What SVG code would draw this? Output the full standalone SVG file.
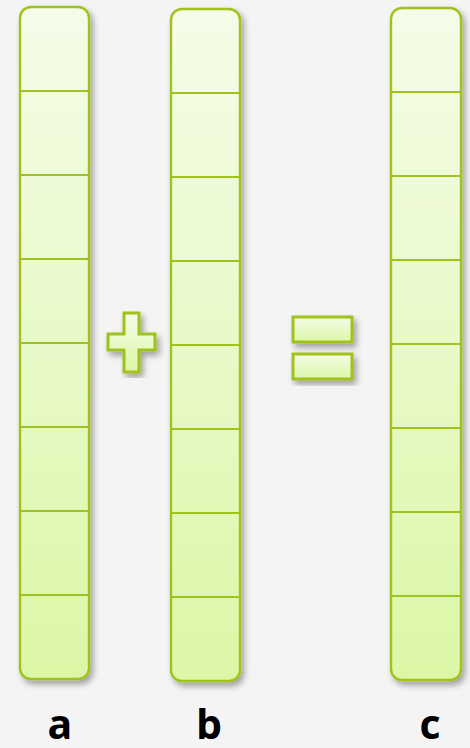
<svg xmlns="http://www.w3.org/2000/svg" width="470" height="748" viewBox="0 0 470 748">
<defs>
<linearGradient id="g" x1="0" y1="0" x2="0" y2="1">
<stop offset="0" stop-color="#f5fce9"/>
<stop offset="1" stop-color="#dbf7a6"/>
</linearGradient>
<filter id="sh" x="-30%" y="-10%" width="160%" height="120%">
<feGaussianBlur in="SourceAlpha" stdDeviation="3"/>
<feOffset dx="3" dy="4" result="b"/>
<feComponentTransfer><feFuncA type="linear" slope="0.35"/></feComponentTransfer>
<feMerge><feMergeNode/><feMergeNode in="SourceGraphic"/></feMerge>
</filter>
<style>
.box{fill:url(#g);stroke:#9fc21a;stroke-width:2.4}
.ln{stroke:#9fc21a;stroke-width:2.2;fill:none}
.sym{fill:url(#g);stroke:#9fc21a;stroke-width:3}
.lbl{font-family:"Open Sans","Liberation Sans",sans-serif;font-weight:bold;font-size:41px;fill:#000;text-anchor:middle}
</style>
</defs>
<rect width="470" height="748" fill="#f4f4f4"/>
<g id="col-a" filter="url(#sh)">
<rect class="box" x="20" y="7" width="69" height="672" rx="11"/>
<path class="ln" d="M20 91H89M20 175H89M20 259H89M20 343H89M20 427H89M20 511H89M20 595H89"/>
</g>
<g id="col-b" filter="url(#sh)">
<rect class="box" x="171" y="9" width="69" height="672" rx="11"/>
<path class="ln" d="M171 93H240M171 177H240M171 261H240M171 345H240M171 429H240M171 513H240M171 597H240"/>
</g>
<g id="col-c" filter="url(#sh)">
<rect class="box" x="391" y="8" width="70" height="672" rx="11"/>
<path class="ln" d="M391 92H461M391 176H461M391 260H461M391 344H461M391 428H461M391 512H461M391 596H461"/>
</g>
<g id="plus" filter="url(#sh)">
<path class="sym" d="M124 313H139V334H155V350H139V372H124V350H108V334H124Z"/>
</g>
<g id="equals" filter="url(#sh)">
<rect class="sym" x="293" y="317" width="59" height="25"/>
<rect class="sym" x="293" y="354" width="59" height="25"/>
</g>
<g id="labels">
<text class="lbl" x="60" y="739">a</text>
<text class="lbl" x="209" y="739">b</text>
<text class="lbl" x="430" y="739">c</text>
</g>
</svg>
